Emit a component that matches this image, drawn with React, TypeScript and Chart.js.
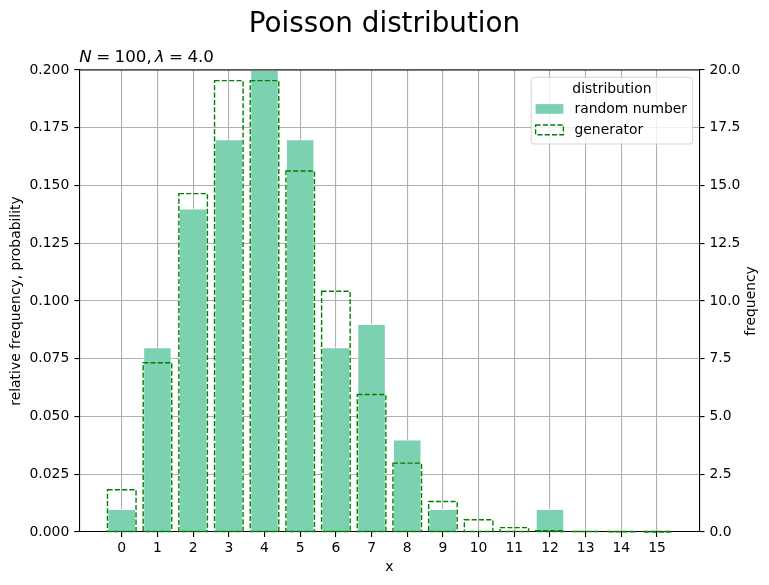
import { useEffect, useRef } from 'react';
import Chart from 'chart.js/auto';

const xValues = [0, 1, 2, 3, 4, 5, 6, 7, 8, 9, 10, 11, 12, 13, 14, 15];
const randomFreq = [0.01, 0.08, 0.14, 0.17, 0.2, 0.17, 0.08, 0.09, 0.04, 0.01, 0, 0, 0.01, 0, 0, 0];
const generatorProb = [
  0.0183, 0.0733, 0.1465, 0.1954, 0.1954, 0.1563, 0.1042, 0.0595, 0.0298, 0.0132, 0.0053, 0.0019,
  0.0006, 0.0002, 0.00005, 0.00001,
];
const probTicks = [0, 0.025, 0.05, 0.075, 0.1, 0.125, 0.15, 0.175, 0.2];
const freqTicks = [0, 2.5, 5, 7.5, 10, 12.5, 15, 17.5, 20];
const seriesLabels = ['random number', 'generator'];
const legendTitle = 'distribution';
const chartTitle = 'Poisson distribution';
const sampleSize = 100;
const lambda = 4.0;

const FONT = "'DejaVu Sans', sans-serif";
const BAR_COLOR = 'rgb(124, 209, 177)';
const DASH_COLOR = '#008000';
const DASH = [5.1, 2.2];

const drawDashedRect = (ctx: CanvasRenderingContext2D, x: number, y: number, w: number, h: number) => {
  ctx.save();
  ctx.strokeStyle = DASH_COLOR;
  ctx.lineWidth = 1.4;
  ctx.setLineDash(DASH);
  ctx.strokeRect(x, y, w, h);
  ctx.restore();
};

const decorations = {
  id: 'decorations',
  afterDatasetsDraw(chart: Chart) {
    const ctx = chart.ctx;
    const meta = chart.getDatasetMeta(1);
    meta.data.forEach((el: any) => {
      const { x, y, base, width } = el.getProps(['x', 'y', 'base', 'width'], true);
      drawDashedRect(ctx, x - width / 2, y, width, base - y);
    });
  },
  afterDraw(chart: Chart) {
    const ctx = chart.ctx;
    const area = chart.chartArea;
    ctx.save();

    // top spine
    ctx.strokeStyle = '#000';
    ctx.lineWidth = 1.1;
    ctx.beginPath();
    ctx.moveTo(area.left, area.top);
    ctx.lineTo(area.right, area.top);
    ctx.stroke();

    // figure title
    ctx.fillStyle = '#000';
    ctx.font = `27.8px ${FONT}`;
    ctx.textAlign = 'center';
    ctx.textBaseline = 'alphabetic';
    ctx.fillText(chartTitle, chart.width / 2, 32);

    // axes title with math-like parts
    const parts: [string, boolean, number][] = [
      ['N', true, 4.4],
      ['=', false, 4.4],
      [`${sampleSize},`, false, 3],
      ['λ', true, 4.4],
      ['=', false, 4.4],
      [lambda.toFixed(1), false, 0],
    ];
    ctx.textAlign = 'left';
    let cx = area.left;
    parts.forEach(([txt, italic, gap]) => {
      ctx.font = `${italic ? 'italic ' : ''}16.7px ${FONT}`;
      ctx.fillText(txt, cx, area.top - 8.4);
      cx += ctx.measureText(txt).width + gap;
    });

    // right axis title (reads bottom to top)
    ctx.font = `13.9px ${FONT}`;
    ctx.textAlign = 'center';
    ctx.textBaseline = 'middle';
    ctx.save();
    ctx.translate(751, (area.top + area.bottom) / 2);
    ctx.rotate(-Math.PI / 2);
    ctx.fillText('frequency', 0, 0);
    ctx.restore();

    // legend
    ctx.font = `13.9px ${FONT}`;
    const textW = Math.max(...seriesLabels.map((s) => ctx.measureText(s).width));
    const boxW = 43.3 + textW + 5.6;
    const boxH = 66.7;
    const bx = area.right - 6.9 - boxW;
    const by = area.top + 7.3;
    ctx.beginPath();
    ctx.roundRect(bx, by, boxW, boxH, 2.8);
    ctx.fillStyle = 'rgba(255,255,255,0.8)';
    ctx.fill();
    ctx.strokeStyle = 'rgba(204,204,204,0.8)';
    ctx.lineWidth = 1;
    ctx.stroke();

    ctx.fillStyle = '#000';
    ctx.textAlign = 'center';
    ctx.textBaseline = 'middle';
    ctx.fillText(legendTitle, bx + boxW / 2, by + 12);

    const rows = [by + 31.7, by + 52.6];
    ctx.fillStyle = BAR_COLOR;
    ctx.fillRect(bx + 4.4, rows[0] - 4.9, 27.8, 9.7);
    drawDashedRect(ctx, bx + 4.4, rows[1] - 4.9, 27.8, 9.7);

    ctx.fillStyle = '#000';
    ctx.textAlign = 'left';
    seriesLabels.forEach((s, i) => ctx.fillText(s, bx + 43.3, rows[i]));

    ctx.restore();
  },
};

const App = () => {
  const canvasRef = useRef<HTMLCanvasElement>(null);
  const chartRef = useRef<Chart | null>(null);

  useEffect(() => {
    document.body.style.margin = '0';
    const canvas = canvasRef.current;
    const context = canvas?.getContext('2d');
    if (!canvas || !context) return;

    Chart.defaults.font.family = FONT;
    Chart.defaults.font.size = 13.9;
    Chart.defaults.color = '#000';

    const axisGrid = {
      color: '#b0b0b0',
      lineWidth: 1.1,
      tickColor: '#000',
      tickWidth: 1.1,
      tickLength: 5,
      offset: false,
    };
    const axisBorder = { display: true, color: '#000', width: 1.1 };

    chartRef.current?.destroy();
    chartRef.current = new Chart(context, {
      type: 'bar',
      data: {
        datasets: [
          {
            label: seriesLabels[0],
            data: xValues.map((x, i) => ({ x, y: randomFreq[i] })),
            backgroundColor: BAR_COLOR,
            borderColor: '#fff',
            borderWidth: 1,
            barPercentage: 0.8,
            categoryPercentage: 1,
            grouped: false,
            yAxisID: 'y',
          },
          {
            label: seriesLabels[1],
            data: xValues.map((x, i) => ({ x, y: generatorProb[i] })),
            backgroundColor: 'rgba(0,0,0,0)',
            borderWidth: 0,
            barPercentage: 0.8,
            categoryPercentage: 1,
            grouped: false,
            yAxisID: 'y',
          },
        ],
      },
      options: {
        animation: false,
        responsive: true,
        maintainAspectRatio: false,
        layout: { padding: { top: 70, left: 0, right: 0, bottom: 0 } },
        plugins: {
          legend: { display: false },
          title: { display: false },
          tooltip: { enabled: false },
        },
        scales: {
          x: {
            type: 'linear',
            min: -1.19,
            max: 16.19,
            offset: false,
            z: 1,
            grid: axisGrid,
            border: axisBorder,
            afterBuildTicks: (s: any) => {
              s.ticks = xValues.map((value) => ({ value }));
            },
            afterFit: (s: any) => {
              s.height = 53;
            },
            ticks: {
              autoSkip: false,
              maxRotation: 0,
              padding: 3,
              callback: (v: any) => String(v),
            },
            title: {
              display: true,
              text: 'x',
              padding: { top: 0, bottom: 9 },
            },
          },
          y: {
            type: 'linear',
            position: 'left',
            min: 0,
            max: 0.2,
            z: 1,
            grid: axisGrid,
            border: axisBorder,
            afterBuildTicks: (s: any) => {
              s.ticks = probTicks.map((value) => ({ value }));
            },
            afterFit: (s: any) => {
              s.width = 79.3;
            },
            ticks: {
              padding: 5,
              callback: (v: any) => Number(v).toFixed(3),
            },
            title: {
              display: true,
              text: 'relative frequency, probability',
              padding: { top: 8, bottom: 0 },
            },
          },
          y1: {
            type: 'linear',
            position: 'right',
            min: 0,
            max: 20,
            z: 1,
            grid: { ...axisGrid, drawOnChartArea: false },
            border: axisBorder,
            afterBuildTicks: (s: any) => {
              s.ticks = freqTicks.map((value) => ({ value }));
            },
            afterFit: (s: any) => {
              s.width = 69.5;
            },
            ticks: {
              padding: 5,
              callback: (v: any) => Number(v).toFixed(1),
            },
          },
        },
      },
      plugins: [decorations],
    } as any);

    return () => {
      chartRef.current?.destroy();
    };
  }, [canvasRef]);

  return (
    <div style={{ position: 'relative', width: 769, height: 585 }}>
      <canvas ref={canvasRef} />
    </div>
  );
};

export default App;
